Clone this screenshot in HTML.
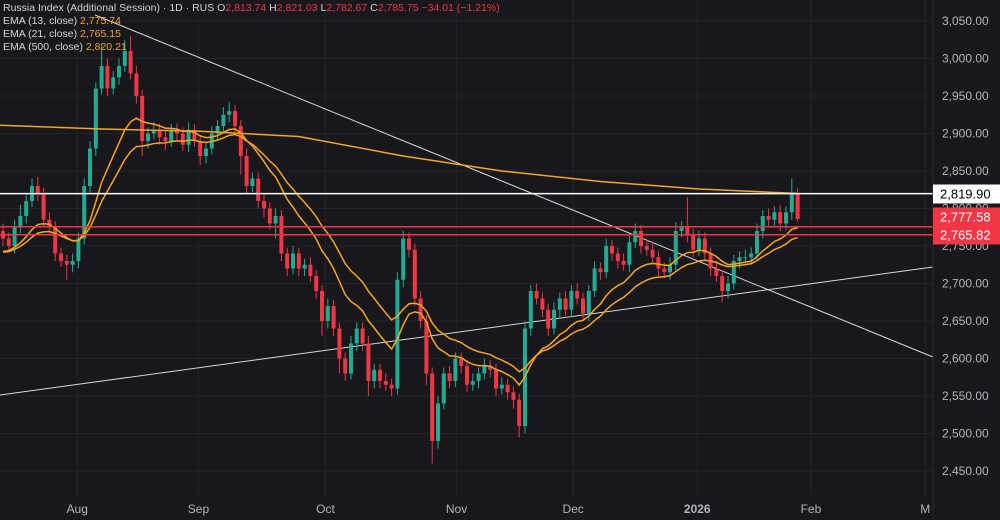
<!DOCTYPE html>
<html><head><meta charset="utf-8"><style>
html,body{margin:0;padding:0;background:#17171c;}
svg{display:block;font-family:"Liberation Sans",sans-serif;}
</style></head><body>
<svg id="chart" width="1000" height="520">
<rect x="0" y="0" width="1000" height="520" fill="#17171c"/>
<g id="grid"></g>
<g id="lines"></g>
<g id="candles"></g>
<g id="emas"></g>
<g id="hlines"></g>
<line x1="933" y1="0" x2="933" y2="520" stroke="#2a2a30"/>
<g id="yaxis"></g>
<g id="xaxis"></g>
<g font-size="10.5">
<text x="3" y="11" fill="#d1d4dc">Russia Index (Additional Session) · 1D · RUS  O<tspan fill="#f23645">2,813.74</tspan> H<tspan fill="#f23645">2,821.03</tspan> L<tspan fill="#f23645">2,782.67</tspan> C<tspan fill="#f23645">2,785.75 −34.01 (−1.21%)</tspan></text>
<text x="3" y="24" fill="#d1d4dc">EMA (13, close) <tspan fill="#f5a623">2,775.74</tspan></text>
<text x="3" y="37" fill="#d1d4dc">EMA (21, close) <tspan fill="#f5a623">2,765.15</tspan></text>
<text x="3" y="50" fill="#d1d4dc">EMA (500, close) <tspan fill="#f5a623">2,820.21</tspan></text>
</g>
</svg>
<script>
const closes=[2760,2750,2775,2790,2810,2830,2820,2785,2775,2740,
2730,2725,2730,2760,2830,2880,2960,2990,2960,2975,
2990,3010,2980,2950,2890,2900,2905,2895,2890,2905,
2900,2885,2905,2890,2870,2880,2900,2910,2925,2930,
2910,2870,2830,2840,2810,2800,2780,2790,2740,2720,
2740,2720,2725,2710,2690,2650,2670,2640,2600,2580,
2620,2640,2620,2570,2585,2570,2565,2560,2705,2760,
2745,2680,2650,2580,2490,2540,2580,2570,2600,2590,
2565,2570,2580,2590,2585,2560,2565,2555,2545,2510,
2640,2690,2680,2665,2640,2665,2680,2665,2690,2680,
2660,2690,2720,2715,2750,2740,2730,2725,2755,2770,
2750,2745,2735,2720,2715,2725,2770,2775,2765,2745,
2760,2740,2720,2710,2690,2700,2730,2735,2735,2740,
2770,2790,2785,2795,2780,2795,2820,2786];
const wickUp=[10,8,10,15,8,10,12,8,10,8,
8,8,10,8,10,10,8,30,10,8,
10,15,20,10,8,8,10,8,8,8,
8,8,10,8,8,8,10,8,10,12,
8,8,10,8,8,10,8,10,8,8,
10,8,8,10,8,8,10,8,8,8,
10,8,8,10,8,8,10,8,10,10,
8,8,10,8,8,10,8,10,8,8,
8,10,8,10,8,8,10,8,8,8,
10,8,10,8,8,10,8,10,8,10,
8,8,10,8,10,8,8,10,8,10,
8,8,10,8,8,10,12,8,40,8,
10,8,8,10,8,10,8,8,10,8,
10,8,10,8,10,8,20,7];
const wickDn=[10,8,10,8,10,8,10,10,8,10,
8,20,10,10,8,10,10,8,10,8,
10,8,8,10,20,10,8,10,12,8,
10,8,10,8,12,10,8,10,8,10,
10,25,10,8,10,12,8,20,10,10,
8,10,10,8,10,20,10,10,20,10,
8,10,10,20,10,10,8,10,8,10,
10,10,10,15,30,10,8,10,8,10,
10,8,10,8,10,10,8,10,12,15,
10,10,8,10,10,8,10,8,10,8,
10,10,8,10,8,10,10,8,10,8,
10,8,10,10,8,10,10,8,10,10,
8,10,10,8,15,10,8,10,8,10,
8,10,8,10,10,8,10,3];
const ema500Idx=[0,17,34,51,69,86,103,120,137];
const ema500=[2911,2906,2903,2896,2870,2850,2836,2826,2820];
const yTicks=[3050,3000,2950,2900,2850,2800,2750,2700,2650,2600,2550,2500,2450];
const xLabels=["Aug","Sep","Oct","Nov","Dec","2026","Feb","M"];
const xLabelIdx=[12.8,33.7,55.6,78.2,98.3,119.7,139.3,159.0];
const levels=[2819.9,2775.6,2765.0];
const NS="http://www.w3.org/2000/svg";
const y=v=>21+(3050-v)*0.75;
const x=i=>3+i*5.8;
function mk(tag,attrs,parent){const e=document.createElementNS(NS,tag);for(const k in attrs)e.setAttribute(k,attrs[k]);document.getElementById(parent).appendChild(e);return e;}
yTicks.forEach(v=>{const l=mk('line',{x1:0,x2:933,y1:y(v),y2:y(v),stroke:'#222228'},'grid');


const t=mk('text',{x:942,y:y(v)+4,fill:'#b2b5be','font-size':12},'yaxis');t.textContent=v.toLocaleString('en-US',{minimumFractionDigits:2});

});
xLabels.forEach((s,k)=>{const xx=x(xLabelIdx[k]);const l=mk('line',{x1:xx,x2:xx,y1:0,y2:495,stroke:'#222228'},'grid');


const t=mk('text',{x:xx,y:513,fill:'#b2b5be','font-size':12,'text-anchor':'middle','font-weight':s==='2026'?'bold':'normal'},'xaxis');t.textContent=s;

});
let t1=mk('line',{x1:95,y1:15,x2:933,y2:357,stroke:'#d8d8d8','stroke-width':1},'lines');


let t2=mk('line',{x1:0,y1:395,x2:933,y2:267,stroke:'#d8d8d8','stroke-width':1},'lines');


closes.forEach((c,i)=>{const o=i===0?2770:closes[i-1];const hi=Math.max(o,c)+wickUp[i];const lo=Math.min(o,c)-wickDn[i];
const col=c>=o?'#22ab94':'#f23645';const cx=x(i);
const w=mk('line',{x1:cx,x2:cx,y1:y(hi),y2:y(lo),stroke:col,'stroke-width':1},'candles');


const b=mk('rect',{x:cx-2,width:4,y:y(Math.max(o,c)),height:Math.max(1,Math.abs(y(o)-y(c))),fill:col},'candles');

});
function ema(n){const a=2/(n+1);let e=2740;return closes.map(c=>(e=c*a+e*(1-a)));}
[[13],[21]].forEach(([n])=>{const p=ema(n).map((v,i)=>x(i)+','+y(v)).join(' ');
const l=mk('polyline',{points:p,fill:'none',stroke:'#f5a623','stroke-width':1.5},'emas');

});
const pl=mk('polyline',{points:ema500.map((v,k)=>(k===0?0:x(ema500Idx[k]))+','+y(v)).join(' '),fill:'none',stroke:'#f5a623','stroke-width':1.5},'emas');


levels.forEach((v,k)=>{const l=mk('line',{x1:0,x2:933,y1:y(v),y2:y(v),stroke:k===0?'#ffffff':'#f23645','stroke-width':1.5},'hlines');

});
const boxes=[[2819.9,'2,819.90','#ffffff','#000',194],[2777.58,'2,777.58','#f23645','#fff',217],[2765.82,'2,765.82','#f23645','#fff',235]];
boxes.forEach(b=>{const r=mk('rect',{x:933,y:b[4]-9.5,width:67,height:19,fill:b[2]},'yaxis');


const t=mk('text',{x:940,y:b[4]+4.5,fill:b[3],'font-size':13},'yaxis');t.textContent=b[1];

});
</script>
</body></html>
